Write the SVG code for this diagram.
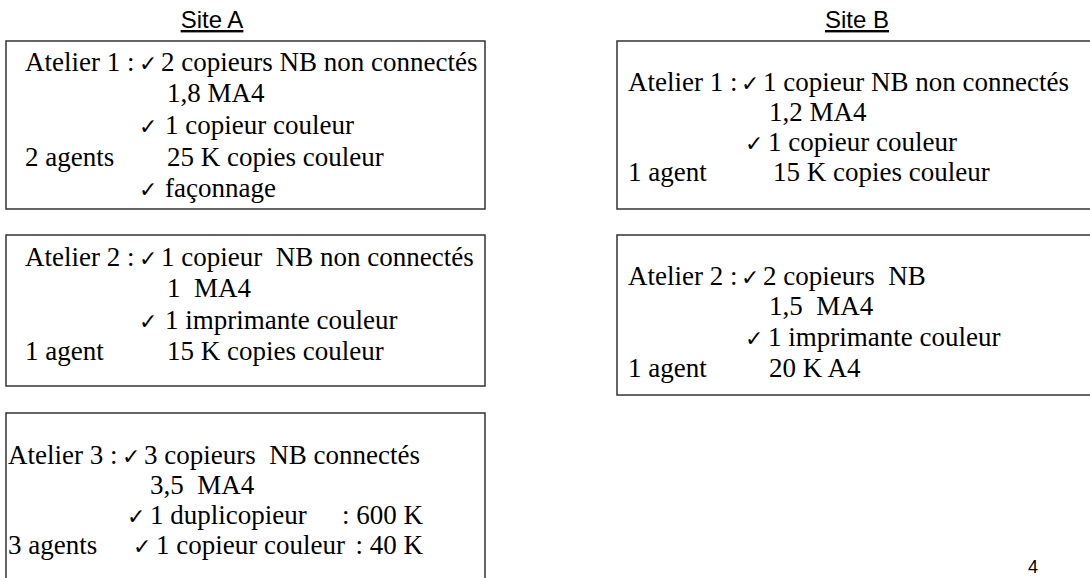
<svg xmlns="http://www.w3.org/2000/svg" width="1090" height="578" viewBox="0 0 1090 578">
<style>
.box{fill:#fff;stroke:#333;stroke-width:1.5}
.t{font-family:'Liberation Serif','DejaVu Serif','Times New Roman',serif;font-size:27px;fill:#000;white-space:pre}
.ck{font-family:'DejaVu Sans',sans-serif;font-size:22px;fill:#000}
.h{font-family:'Liberation Sans',Arial,sans-serif;font-size:24px;fill:#000;text-decoration:underline}
.pg{font-family:'Liberation Sans',Arial,sans-serif;font-size:18px;fill:#000}
</style>
<rect width="1090" height="578" fill="#fff"/>
<text class="h" x="212" y="28" text-anchor="middle">Site A</text>
<text class="h" x="857" y="28" text-anchor="middle">Site B</text>

<g id="siteA-atelier1">
<rect class="box" x="6" y="41" width="479" height="168"/>
<text class="t" x="25" y="71">Atelier 1 :</text>
<text class="ck" x="139" y="71">✓</text>
<text class="t" x="161" y="71">2 copieurs NB non connectés</text>
<text class="t" x="167" y="102">1,8 MA4</text>
<text class="ck" x="139" y="134">✓</text>
<text class="t" x="165" y="134">1 copieur couleur</text>
<text class="t" x="25" y="166">2 agents</text>
<text class="t" x="167" y="166">25 K copies couleur</text>
<text class="ck" x="139" y="197">✓</text>
<text class="t" x="165" y="197">façonnage</text>
</g>

<g id="siteA-atelier2">
<rect class="box" x="6" y="235" width="479" height="151"/>
<text class="t" x="25" y="266">Atelier 2 :</text>
<text class="ck" x="139" y="266">✓</text>
<text class="t" x="161" y="266">1 copieur  NB non connectés</text>
<text class="t" x="167" y="297">1  MA4</text>
<text class="ck" x="139" y="329">✓</text>
<text class="t" x="165" y="329">1 imprimante couleur</text>
<text class="t" x="25" y="360">1 agent</text>
<text class="t" x="167" y="360">15 K copies couleur</text>
</g>

<g id="siteA-atelier3">
<rect class="box" x="6" y="413" width="479" height="200"/>
<text class="t" x="8" y="464">Atelier 3 :</text>
<text class="ck" x="122" y="464">✓</text>
<text class="t" x="144" y="464">3 copieurs  NB connectés</text>
<text class="t" x="150" y="494">3,5  MA4</text>
<text class="ck" x="127" y="524">✓</text>
<text class="t" x="150" y="524">1 duplicopieur</text>
<text class="t" x="423" y="524" text-anchor="end">: 600 K</text>
<text class="t" x="8" y="554">3 agents</text>
<text class="ck" x="133" y="554">✓</text>
<text class="t" x="156" y="554">1 copieur couleur</text>
<text class="t" x="423" y="554" text-anchor="end">: 40 K</text>
</g>

<g id="siteB-atelier1">
<rect class="box" x="617" y="41" width="500" height="168"/>
<text class="t" x="628" y="91">Atelier 1 :</text>
<text class="ck" x="741" y="91">✓</text>
<text class="t" x="763" y="91">1 copieur NB non connectés</text>
<text class="t" x="769" y="121">1,2 MA4</text>
<text class="ck" x="745" y="151">✓</text>
<text class="t" x="768" y="151">1 copieur couleur</text>
<text class="t" x="628" y="181">1 agent</text>
<text class="t" x="773" y="181">15 K copies couleur</text>
</g>

<g id="siteB-atelier2">
<rect class="box" x="617" y="235" width="500" height="160"/>
<text class="t" x="628" y="285">Atelier 2 :</text>
<text class="ck" x="741" y="285">✓</text>
<text class="t" x="763" y="285">2 copieurs  NB</text>
<text class="t" x="769" y="315">1,5  MA4</text>
<text class="ck" x="745" y="346">✓</text>
<text class="t" x="768" y="346">1 imprimante couleur</text>
<text class="t" x="628" y="377">1 agent</text>
<text class="t" x="769" y="377">20 K A4</text>
</g>

<g id="connectors"></g>
<text class="pg" x="1028" y="573">4</text>
</svg>
